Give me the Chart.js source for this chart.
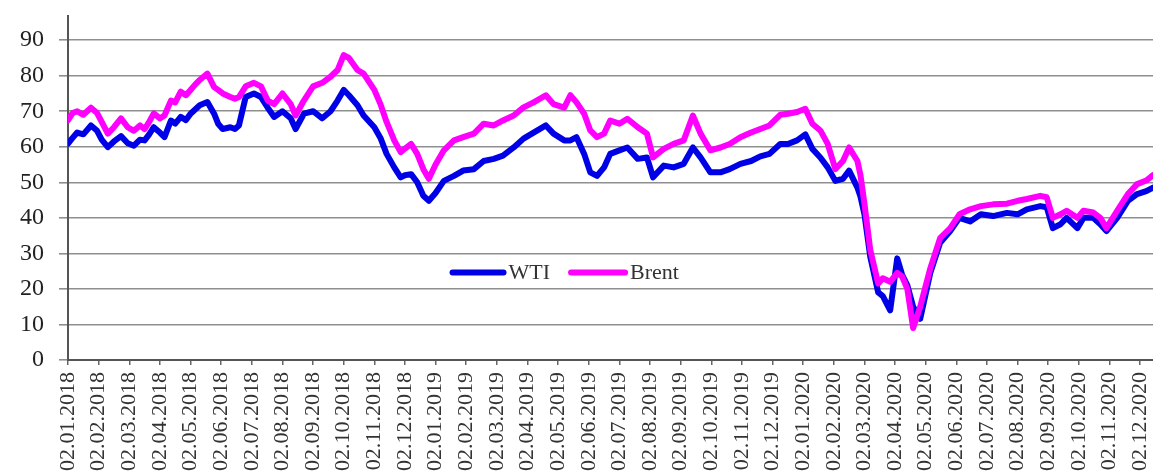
<!DOCTYPE html>
<html>
<head>
<meta charset="utf-8">
<script src="https://cdn.jsdelivr.net/npm/chart.js@4.4.1/dist/chart.umd.min.js"></script>
<style>
html, body { margin: 0; padding: 0; background: #fff; }
#caixa { width: 1153px; height: 472px; }
</style>
</head>
<body>
<div id="caixa"><canvas id="grafico"></canvas></div>
<script>
// rótulos do eixo X, um por mês
var rotulosMeses = [
    '02.01.2018', '02.02.2018', '02.03.2018', '02.04.2018', '02.05.2018', '02.06.2018',
    '02.07.2018', '02.08.2018', '02.09.2018', '02.10.2018', '02.11.2018', '02.12.2018',
    '02.01.2019', '02.02.2019', '02.03.2019', '02.04.2019', '02.05.2019', '02.06.2019',
    '02.07.2019', '02.08.2019', '02.09.2019', '02.10.2019', '02.11.2019', '02.12.2019',
    '02.01.2020', '02.02.2020', '02.03.2020', '02.04.2020', '02.05.2020', '02.06.2020',
    '02.07.2020', '02.08.2020', '02.09.2020', '02.10.2020', '02.11.2020', '02.12.2020'
];

// posição de cada leitura, em meses a partir de 02.01.2018
var posicoes = [
    0.00, 0.15, 0.30, 0.50, 0.75, 0.95, 1.10, 1.30, 1.50, 1.73,
    1.95, 2.15, 2.35, 2.50, 2.65, 2.80, 3.00, 3.15, 3.36, 3.50,
    3.68, 3.85, 4.00, 4.15, 4.30, 4.55, 4.77, 4.90, 5.05, 5.30,
    5.45, 5.58, 5.80, 6.07, 6.30, 6.52, 6.73, 7.00, 7.27, 7.43,
    7.70, 8.00, 8.30, 8.57, 8.80, 9.00, 9.17, 9.45, 9.65, 10.00,
    10.20, 10.40, 10.65, 10.86, 11.00, 11.20, 11.40, 11.60, 11.78, 12.00,
    12.27, 12.60, 12.90, 13.25, 13.57, 13.90, 14.20, 14.55, 14.87, 15.20,
    15.60, 15.85, 16.20, 16.40, 16.60, 16.85, 17.05, 17.27, 17.50, 17.70,
    18.00, 18.26, 18.60, 18.90, 19.10, 19.45, 19.77, 20.10, 20.40, 20.65,
    20.97, 21.30, 21.60, 21.95, 22.30, 22.60, 22.90, 23.25, 23.50, 23.80,
    24.07, 24.30, 24.56, 24.80, 25.05, 25.30, 25.50, 25.77, 25.87, 26.00,
    26.19, 26.45, 26.60, 26.84, 27.07, 27.23, 27.40, 27.59, 27.82, 28.15,
    28.47, 28.80, 29.10, 29.45, 29.80, 30.20, 30.65, 31.00, 31.30, 31.74,
    31.95, 32.15, 32.40, 32.60, 32.95, 33.15, 33.47, 33.70, 33.90, 34.25,
    34.60, 34.90, 35.20, 35.42
];

var wti = [
    60.9, 62.5, 64.0, 63.5, 66.0, 64.5, 62.0, 59.9, 61.5, 63.0,
    61.0, 60.3, 62.0, 61.8, 63.5, 65.5, 64.0, 62.7, 67.4, 66.5,
    68.4, 67.5, 69.3, 70.5, 71.7, 72.6, 69.3, 66.5, 65.0, 65.5,
    65.0, 66.0, 74.0, 75.0, 74.0, 71.0, 68.4, 70.0, 68.0, 65.0,
    69.3, 70.0, 68.0, 70.0, 73.0, 76.0, 74.5, 71.7, 68.8, 65.5,
    62.5, 58.0, 54.2, 51.4, 52.0, 52.3, 50.0, 46.2, 44.8, 47.0,
    50.4, 51.8, 53.3, 53.7, 56.0, 56.6, 57.5, 59.8, 62.3, 64.0,
    66.0, 63.7, 61.8, 61.8, 62.7, 58.0, 52.8, 51.8, 54.2, 58.0,
    59.0, 59.8, 56.6, 57.0, 51.4, 54.7, 54.2, 55.2, 59.8, 57.0,
    52.8, 52.8, 53.7, 55.2, 56.0, 57.3, 58.0, 60.8, 60.8, 61.8,
    63.5, 59.4, 57.0, 54.2, 50.4, 51.0, 53.3, 48.5, 46.0, 41.0,
    29.0, 19.0, 18.0, 14.0, 28.6, 24.0, 21.0, 15.0, 11.6, 24.5,
    33.0, 36.3, 40.0, 39.0, 41.0, 40.5, 41.4, 41.0, 42.4, 43.3,
    43.0, 37.1, 38.2, 40.0, 37.1, 40.0, 40.0, 38.2, 36.3, 40.0,
    44.8, 46.7, 47.5, 48.5
];

var brent = [
    67.5, 69.5, 70.0, 69.0, 71.0, 69.5, 67.0, 63.7, 65.5, 68.0,
    65.5, 64.5, 66.0, 65.0, 67.0, 69.4, 68.0, 68.8, 73.0, 72.5,
    75.5, 74.5, 76.0, 77.5, 78.8, 80.6, 76.8, 76.0, 75.0, 74.0,
    73.5, 74.0, 77.0, 78.0, 77.0, 73.0, 72.0, 75.0, 72.0, 68.8,
    73.0, 77.0, 78.0, 79.7, 81.6, 85.8, 85.0, 81.6, 80.6, 76.0,
    72.0, 67.0, 61.8, 58.5, 59.5, 60.8, 58.0, 53.7, 51.0, 55.0,
    59.0, 61.8, 62.7, 63.7, 66.5, 66.0, 67.4, 68.8, 71.1, 72.5,
    74.5, 72.0, 71.0, 74.5, 72.5, 69.3, 64.6, 62.7, 63.7, 67.4,
    66.5, 67.9, 65.5, 63.7, 57.0, 59.4, 60.8, 61.8, 68.8, 63.7,
    59.0, 59.8, 60.8, 62.7, 64.0, 65.0, 66.0, 69.0, 69.3, 69.8,
    70.7, 66.5, 64.6, 60.8, 53.7, 56.0, 59.8, 56.0, 52.0, 44.0,
    31.0, 21.5, 23.0, 22.0, 24.5, 23.5, 20.0, 9.0, 15.0, 25.8,
    34.3, 37.1, 41.0, 42.4, 43.3, 43.8, 44.0, 44.8, 45.3, 46.2,
    45.8, 40.0, 41.0, 42.0, 40.0, 42.0, 41.5, 40.0, 37.1, 42.0,
    46.7, 49.5, 50.5, 52.0
];

var nomesSeries = ['WTI', 'Brent'];
var coresSeries = ['#0000E6', '#FF00FF'];

function montarPontos(valores) {
    return valores.map(function (v, i) { return { x: posicoes[i], y: v }; });
}

// legenda desenhada no meio da área do gráfico
var legendaMeio = {
    id: 'legendaMeio',
    afterDraw: function (chart) {
        var ctx = chart.ctx;
        var centroX = chart.scales.x.getPixelForValue(16.2);
        var y = chart.scales.y.getPixelForValue(24.6);
        ctx.save();
        ctx.font = '22px "Liberation Serif", "Times New Roman", serif';
        ctx.textBaseline = 'middle';
        var tamLinha = [57, 60];
        var larguras = nomesSeries.map(function (n) { return ctx.measureText(n).width; });
        var total = tamLinha[0] + 2 + larguras[0] + 18 + tamLinha[1] + 2 + larguras[1];
        var x = centroX - total / 2;
        for (var i = 0; i < nomesSeries.length; i++) {
            ctx.strokeStyle = coresSeries[i];
            ctx.lineWidth = 6;
            ctx.lineCap = 'round';
            ctx.beginPath();
            ctx.moveTo(x + 3, y);
            ctx.lineTo(x + tamLinha[i] - 3, y);
            ctx.stroke();
            x += tamLinha[i] + 2;
            ctx.fillStyle = '#333';
            ctx.fillText(nomesSeries[i], x, y + 1);
            x += larguras[i] + 18;
        }
        ctx.restore();
    }
};

var config = {
    type: 'line',
    data: {
        datasets: [{
            label: nomesSeries[0],
            data: montarPontos(wti),
            borderColor: coresSeries[0],
            backgroundColor: coresSeries[0],
            borderWidth: 6,
            pointRadius: 0,
            tension: 0,
            borderJoinStyle: 'round',
            borderCapStyle: 'round',
            order: 1
        }, {
            label: nomesSeries[1],
            data: montarPontos(brent),
            borderColor: coresSeries[1],
            backgroundColor: coresSeries[1],
            borderWidth: 6,
            pointRadius: 0,
            tension: 0,
            borderJoinStyle: 'round',
            borderCapStyle: 'round',
            order: 0
        }]
    },
    options: {
        responsive: true,
        maintainAspectRatio: false,
        animation: false,
        layout: {
            padding: { left: 5, top: 16, right: 0, bottom: -6 }
        },
        plugins: {
            legend: { display: false },
            tooltip: { enabled: false }
        },
        scales: {
            x: {
                type: 'linear',
                min: 0,
                max: 35.42,
                afterBuildTicks: function (eixo) {
                    eixo.ticks = rotulosMeses.map(function (r, i) { return { value: i }; });
                },
                afterFit: function (eixo) {
                    eixo.paddingLeft = 0;
                    eixo.paddingRight = 0;
                },
                ticks: {
                    autoSkip: false,
                    minRotation: 90,
                    maxRotation: 90,
                    padding: 7,
                    color: '#333',
                    font: { family: '"Liberation Serif", "Times New Roman", serif', size: 22 },
                    callback: function (valor) { return rotulosMeses[valor]; }
                },
                grid: {
                    drawOnChartArea: false,
                    drawTicks: true,
                    tickLength: 5,
                    color: '#666',
                    lineWidth: 1.5
                },
                border: { color: '#555', width: 2 }
            },
            y: {
                min: 0,
                max: 96.8,
                afterFit: function (eixo) {
                    eixo.paddingTop = 0;
                    eixo.paddingBottom = 0;
                },
                ticks: {
                    stepSize: 10,
                    includeBounds: false,
                    padding: 15,
                    color: '#222',
                    font: { family: '"Liberation Serif", "Times New Roman", serif', size: 24 }
                },
                grid: {
                    color: '#8f8f8f',
                    lineWidth: 1.6,
                    tickLength: 9
                },
                border: { color: '#555', width: 2 }
            }
        }
    },
    plugins: [legendaMeio]
};

new Chart(document.getElementById('grafico'), config);
</script>
</body>
</html>
